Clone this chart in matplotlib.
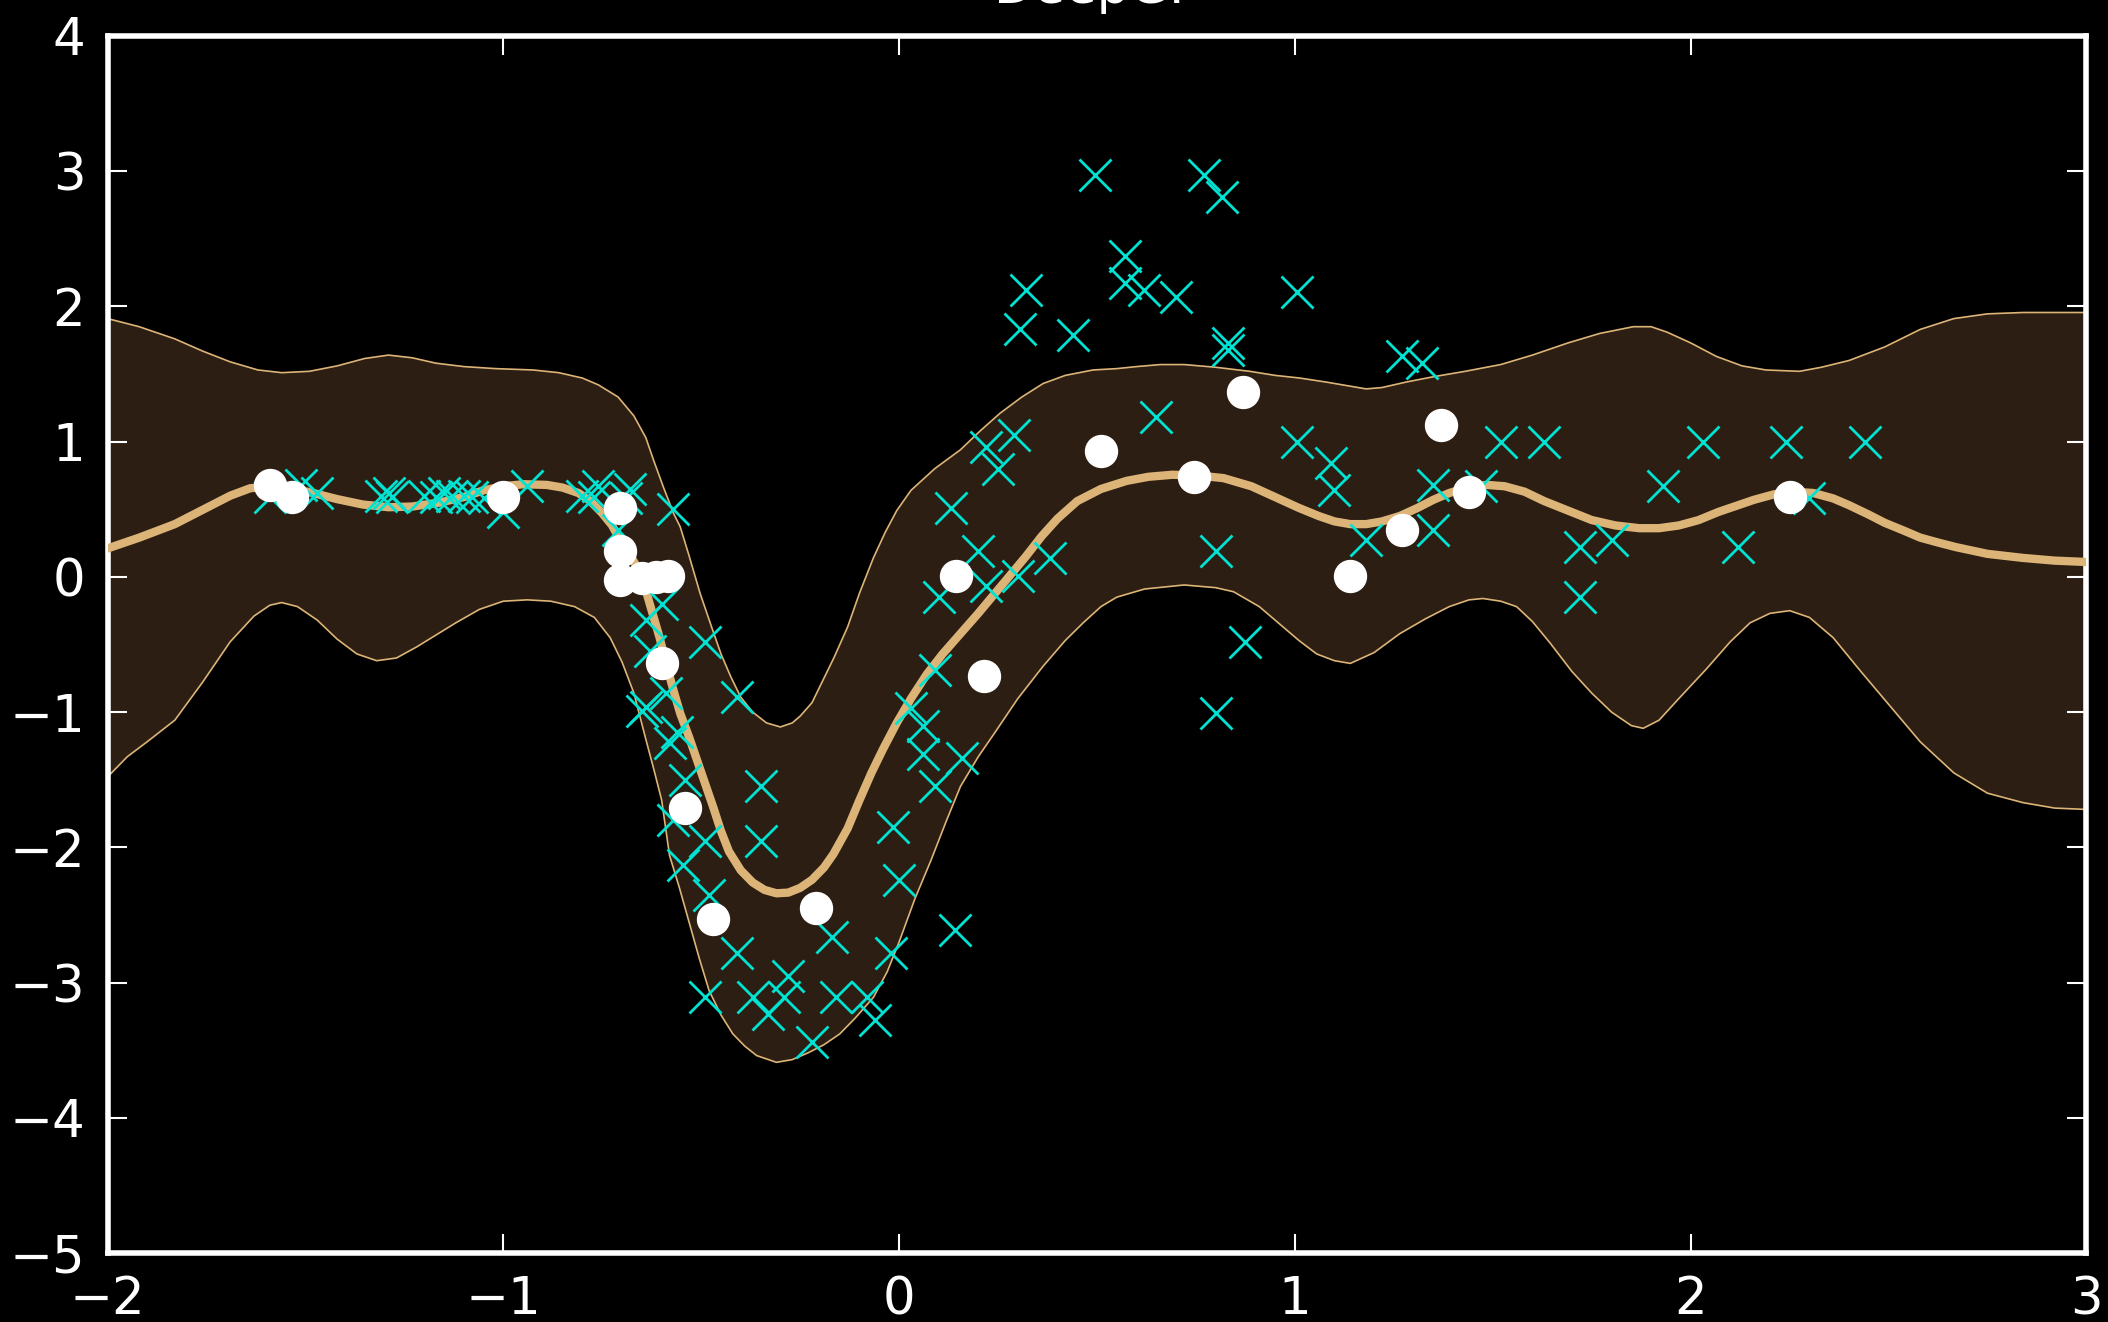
import numpy as np
import matplotlib.pyplot as plt

# posterior mean
mean_x = [-2.0, -1.92, -1.83, -1.75, -1.69, -1.64, -1.59, -1.54, -1.48, -1.42,
          -1.355, -1.29, -1.23, -1.16, -1.10, -1.05, -1.0, -0.95, -0.89, -0.85,
          -0.81, -0.78, -0.75, -0.725, -0.705, -0.68, -0.655, -0.64, -0.625, -0.605,
          -0.587, -0.57, -0.553, -0.53, -0.51, -0.49, -0.47, -0.45, -0.43, -0.40,
          -0.37, -0.34, -0.31, -0.28, -0.25, -0.22, -0.19, -0.166, -0.13, -0.10,
          -0.07, -0.04, -0.006, 0.03, 0.07, 0.11, 0.155, 0.20, 0.24, 0.28,
          0.32, 0.36, 0.40, 0.45, 0.51, 0.575, 0.63, 0.69, 0.755, 0.82,
          0.89, 0.95, 1.01, 1.06, 1.10, 1.14, 1.18, 1.22, 1.265, 1.31,
          1.35, 1.39, 1.44, 1.485, 1.53, 1.58, 1.63, 1.69, 1.75, 1.81,
          1.87, 1.92, 1.97, 2.02, 2.07, 2.11, 2.16, 2.21, 2.26, 2.31,
          2.36, 2.40, 2.45, 2.49, 2.54, 2.58, 2.63, 2.67, 2.75, 2.84,
          2.92, 3.0]
mean_y = [0.21, 0.29, 0.39, 0.51, 0.60, 0.655, 0.67, 0.655, 0.62, 0.575,
          0.535, 0.515, 0.52, 0.55, 0.59, 0.64, 0.67, 0.685, 0.68, 0.66,
          0.62, 0.56, 0.47, 0.38, 0.27, 0.16, 0.04, -0.10, -0.25, -0.45,
          -0.66, -0.84, -1.01, -1.19, -1.36, -1.53, -1.70, -1.88, -2.03, -2.17,
          -2.26, -2.315, -2.34, -2.335, -2.30, -2.24, -2.15, -2.05, -1.86, -1.65,
          -1.45, -1.27, -1.08, -0.90, -0.72, -0.57, -0.42, -0.27, -0.13, 0.01,
          0.15, 0.30, 0.43, 0.56, 0.65, 0.71, 0.74, 0.755, 0.75, 0.73,
          0.67, 0.59, 0.51, 0.45, 0.41, 0.39, 0.39, 0.41, 0.45, 0.51,
          0.57, 0.62, 0.665, 0.68, 0.67, 0.63, 0.56, 0.49, 0.42, 0.38,
          0.36, 0.36, 0.38, 0.42, 0.48, 0.52, 0.57, 0.61, 0.63, 0.62,
          0.58, 0.53, 0.46, 0.40, 0.34, 0.29, 0.25, 0.22, 0.17, 0.14,
          0.12, 0.11]

# upper confidence bound
upper_x = [-2.0, -1.92, -1.83, -1.76, -1.69, -1.62, -1.56, -1.49, -1.42, -1.35,
           -1.29, -1.23, -1.17, -1.10, -1.02, -0.925, -0.86, -0.80, -0.76, -0.71,
           -0.67, -0.64, -0.62, -0.595, -0.57, -0.553, -0.53, -0.503, -0.475, -0.45,
           -0.425, -0.40, -0.37, -0.335, -0.30, -0.27, -0.25, -0.22, -0.20, -0.165,
           -0.13, -0.10, -0.065, -0.035, -0.006, 0.03, 0.09, 0.155, 0.205, 0.255,
           0.31, 0.364, 0.42, 0.49, 0.55, 0.60, 0.66, 0.72, 0.80, 0.886,
           0.95, 1.013, 1.08, 1.14, 1.18, 1.22, 1.28, 1.35, 1.43, 1.52,
           1.60, 1.69, 1.77, 1.855, 1.90, 1.94, 2.00, 2.065, 2.13, 2.19,
           2.275, 2.33, 2.40, 2.49, 2.58, 2.665, 2.75, 2.84, 3.0]
upper_y = [1.91, 1.85, 1.76, 1.67, 1.59, 1.53, 1.51, 1.52, 1.56, 1.615,
           1.64, 1.62, 1.58, 1.555, 1.54, 1.53, 1.51, 1.47, 1.42, 1.33,
           1.19, 1.03, 0.86, 0.66, 0.47, 0.37, 0.15, -0.12, -0.36, -0.57,
           -0.74, -0.89, -1.00, -1.08, -1.11, -1.08, -1.03, -0.93, -0.81, -0.60,
           -0.37, -0.12, 0.14, 0.33, 0.49, 0.64, 0.80, 0.94, 1.08, 1.21,
           1.33, 1.43, 1.49, 1.53, 1.54, 1.555, 1.57, 1.57, 1.55, 1.52,
           1.49, 1.47, 1.44, 1.41, 1.39, 1.40, 1.44, 1.48, 1.52, 1.57,
           1.64, 1.73, 1.80, 1.85, 1.85, 1.81, 1.73, 1.63, 1.56, 1.53,
           1.52, 1.55, 1.60, 1.70, 1.83, 1.91, 1.945, 1.955, 1.955]

# lower confidence bound
lower_x = [-2.0, -1.95, -1.90, -1.83, -1.76, -1.69, -1.63, -1.59, -1.56, -1.52,
           -1.47, -1.42, -1.37, -1.32, -1.27, -1.22, -1.17, -1.12, -1.06, -1.00,
           -0.94, -0.88, -0.82, -0.77, -0.73, -0.70, -0.67, -0.64, -0.62, -0.60,
           -0.58, -0.555, -0.53, -0.505, -0.48, -0.45, -0.42, -0.39, -0.36, -0.31,
           -0.27, -0.23, -0.19, -0.15, -0.11, -0.065, -0.03, 0.0, 0.04, 0.08,
           0.12, 0.155, 0.20, 0.24, 0.30, 0.364, 0.42, 0.465, 0.51, 0.55,
           0.62, 0.72, 0.80, 0.845, 0.91, 0.97, 1.01, 1.055, 1.10, 1.14,
           1.20, 1.265, 1.33, 1.39, 1.44, 1.475, 1.52, 1.56, 1.60, 1.645,
           1.70, 1.75, 1.80, 1.85, 1.88, 1.92, 1.97, 2.04, 2.10, 2.15,
           2.20, 2.25, 2.30, 2.36, 2.43, 2.505, 2.58, 2.665, 2.75, 2.84,
           2.92, 3.0]
lower_y = [-1.48, -1.33, -1.22, -1.06, -0.78, -0.48, -0.29, -0.21, -0.19, -0.22,
           -0.32, -0.46, -0.57, -0.62, -0.60, -0.52, -0.43, -0.34, -0.24, -0.18,
           -0.17, -0.18, -0.22, -0.30, -0.45, -0.63, -0.86, -1.20, -1.42, -1.65,
           -2.06, -2.30, -2.56, -2.82, -3.06, -3.24, -3.38, -3.47, -3.54, -3.59,
           -3.57, -3.52, -3.46, -3.38, -3.26, -3.11, -2.92, -2.70, -2.38, -2.10,
           -1.80, -1.55, -1.33, -1.16, -0.90, -0.66, -0.47, -0.34, -0.22, -0.15,
           -0.09, -0.06, -0.08, -0.11, -0.22, -0.37, -0.47, -0.57, -0.62, -0.64,
           -0.56, -0.42, -0.31, -0.22, -0.17, -0.16, -0.18, -0.22, -0.33, -0.49,
           -0.70, -0.86, -1.00, -1.10, -1.12, -1.06, -0.90, -0.68, -0.48, -0.34,
           -0.27, -0.25, -0.30, -0.45, -0.70, -0.96, -1.22, -1.45, -1.60, -1.67,
           -1.71, -1.72]

# observed samples (cyan crosses)
obs_x = [-1.59, -1.51, -1.47, -1.31, -1.29, -1.28, -1.20, -1.17, -1.15, -1.13,
         -1.10, -1.08, -1.05, -1.00, -0.94, -0.80, -0.77, -0.76, -0.69, -0.68,
         -0.71, -0.57, -0.60, -0.64, -0.49, -0.63, -0.59, -0.64, -0.65, -0.41,
         -0.56, -0.58, -0.54, -0.35, -0.57, -0.49, -0.35, -0.015, -0.545, -0.48,
         -0.41, -0.28, -0.49, -0.37, -0.33, -0.29, -0.16, -0.17, 0.0, -0.02,
         -0.08, -0.06, -0.22, 0.14, 0.20, 0.10, 0.22, 0.30, 0.38, 0.09,
         0.03, 0.06, 0.06, 0.16, 0.09, 0.32, 0.305, 0.44, 0.57, 0.57,
         0.62, 0.22, 0.29, 0.25, 0.13, 0.65, 0.495, 0.77, 0.815, 0.70,
         1.005, 0.83, 0.83, 1.005, 1.09, 1.10, 0.80, 0.875, 0.80, 1.27,
         1.32, 1.18, 1.35, 1.47, 1.35, 1.52, 1.63, 1.72, 1.80, 1.72,
         1.93, 2.03, 2.12, 2.24, 2.30, 2.44]
obs_y = [0.59, 0.68, 0.62, 0.60, 0.62, 0.59, 0.60, 0.59, 0.62, 0.60,
         0.60, 0.59, 0.58, 0.48, 0.67, 0.60, 0.59, 0.67, 0.58, 0.65,
         0.35, 0.50, -0.20, -0.32, -0.48, -0.55, -0.86, -0.96, -0.99, -0.89,
         -1.15, -1.23, -1.50, -1.55, -1.80, -1.95, -1.95, -1.85, -2.13, -2.35,
         -2.78, -2.95, -3.11, -3.11, -3.23, -3.11, -3.11, -2.66, -2.24, -2.78,
         -3.11, -3.28, -3.44, -2.61, 0.19, -0.15, -0.07, 0.01, 0.14, -0.69,
         -0.97, -1.10, -1.31, -1.34, -1.55, 2.12, 1.83, 1.79, 2.37, 2.17,
         2.12, 0.96, 1.05, 0.80, 0.51, 1.18, 2.97, 2.97, 2.81, 2.07,
         2.11, 1.73, 1.68, 1.00, 0.84, 0.64, 0.19, -0.48, -1.01, 1.63,
         1.58, 0.27, 0.68, 0.67, 0.35, 1.00, 1.00, 0.22, 0.27, -0.15,
         0.67, 1.00, 0.22, 1.00, 0.58, 1.00]

# training points (white circles)
pts_x = [-1.59, -1.535, -1.0, -0.705, -0.705, -0.705, -0.65, -0.615, -0.585, -0.60,
         -0.54, -0.47, -0.21, 0.145, 0.215, 0.51, 0.745, 0.87, 1.14, 1.27,
         1.37, 1.44, 2.25]
pts_y = [0.68, 0.59, 0.59, 0.51, 0.19, -0.02, -0.01, 0.0, 0.01, -0.64,
         -1.71, -2.53, -2.45, 0.01, -0.73, 0.93, 0.74, 1.37, 0.01, 0.35,
         1.12, 0.63, 0.59]

tan = '#ddb477'
plt.rcParams['font.family'] = 'DejaVu Sans'

fig = plt.figure(figsize=(21.08, 13.22), dpi=100, facecolor='black')
ax = fig.add_axes([0.051, 0.0522, 0.9388, 0.9206], facecolor='black')

band_x = np.concatenate([upper_x, lower_x[::-1]])
band_y = np.concatenate([upper_y, lower_y[::-1]])
ax.fill(band_x, band_y, color='#2c1e13', lw=0, zorder=1)
ax.plot(upper_x, upper_y, color=tan, lw=1.2, zorder=2)
ax.plot(lower_x, lower_y, color=tan, lw=1.2, zorder=2)
ax.plot(mean_x, mean_y, color=tan, lw=6, zorder=3, solid_joinstyle='round')

ax.plot(obs_x, obs_y, 'x', color='#00e3d3', ms=23, mew=2, zorder=4)
ax.plot(pts_x, pts_y, 'o', color='white', mec='white', ms=23, zorder=5)

ax.set_xlim(-2, 3)
ax.set_ylim(-5, 4)
ax.set_xticks([-2, -1, 0, 1, 2, 3])
ax.set_yticks([-5, -4, -3, -2, -1, 0, 1, 2, 3, 4])

for s in ax.spines.values():
    s.set_color('white')
    s.set_linewidth(4)
ax.tick_params(direction='in', length=14, width=1.5, colors='white',
               labelsize=37, pad=16, top=True, right=True)

# title sits mostly above the canvas, as in the original
ax.set_title('DeepGP', color='white', fontsize=37, pad=24)

fig.savefig('out.png', dpi=100, facecolor='black')
